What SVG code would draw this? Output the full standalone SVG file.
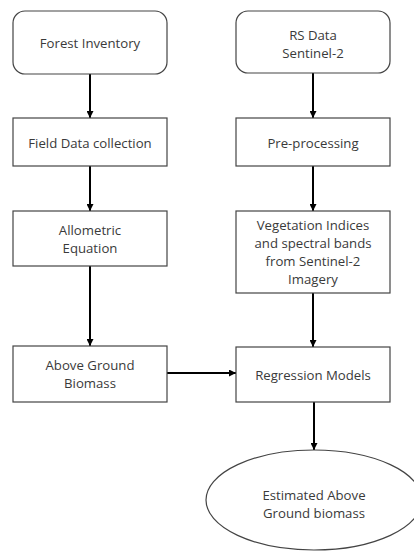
<svg xmlns="http://www.w3.org/2000/svg" width="414" height="552" viewBox="0 0 414 552">
<defs>
<marker id="ah" markerWidth="7" markerHeight="7" refX="7" refY="3.5" orient="auto" markerUnits="userSpaceOnUse">
<path d="M0,0 L7,3.5 L0,7 z" fill="#000"/>
</marker>
<style>
.box{fill:#fff;stroke:#444;stroke-width:1.2}
.t{font-family:"Open Sans","Noto Sans",sans-serif;font-size:13.2px;fill:#3a3a3a;text-anchor:middle}
.c{stroke:#000;stroke-width:2;fill:none;marker-end:url(#ah)}
</style>
</defs>
<rect width="414" height="552" fill="#fff"/>
<g id="connectors">
<line class="c" x1="90" y1="74" x2="90" y2="118"/>
<line class="c" x1="90" y1="166" x2="90" y2="211"/>
<line class="c" x1="90" y1="266" x2="90" y2="346"/>
<line class="c" x1="313" y1="73" x2="313" y2="118"/>
<line class="c" x1="313" y1="166" x2="313" y2="211"/>
<line class="c" x1="313" y1="293" x2="313" y2="347"/>
<line class="c" x1="167" y1="373" x2="236" y2="373"/>
<line class="c" x1="314" y1="402" x2="314" y2="450"/>
</g>
<g id="forest-inventory">
<rect class="box" x="13" y="11" width="154" height="63" rx="12"/>
<text class="t" x="90" y="47.5">Forest Inventory</text>
</g>
<g id="field-data">
<rect class="box" x="13" y="118" width="154" height="48"/>
<text class="t" x="90" y="147.5">Field Data collection</text>
</g>
<g id="allometric">
<rect class="box" x="13" y="211" width="154" height="55"/>
<text class="t" x="90" y="234.5">Allometric</text>
<text class="t" x="90" y="252.5">Equation</text>
</g>
<g id="agb">
<rect class="box" x="13" y="346" width="154" height="56"/>
<text class="t" x="90" y="369.5">Above Ground</text>
<text class="t" x="90" y="387.5">Biomass</text>
</g>
<g id="rs-data">
<rect class="box" x="236" y="11" width="154" height="62" rx="12"/>
<text class="t" x="313" y="39.5">RS Data</text>
<text class="t" x="313" y="57.5">Sentinel-2</text>
</g>
<g id="preprocessing">
<rect class="box" x="236" y="118" width="154" height="48"/>
<text class="t" x="313" y="147.5">Pre-processing</text>
</g>
<g id="vegetation">
<rect class="box" x="236" y="211" width="154" height="82"/>
<text class="t" x="313" y="229.5">Vegetation Indices</text>
<text class="t" x="313" y="247.5">and spectral bands</text>
<text class="t" x="313" y="265.5">from Sentinel-2</text>
<text class="t" x="313" y="284">Imagery</text>
</g>
<g id="regression">
<rect class="box" x="236" y="347" width="154" height="55"/>
<text class="t" x="313" y="379.5">Regression Models</text>
</g>
<g id="estimated">
<ellipse class="box" cx="314" cy="500" rx="108" ry="50"/>
<text class="t" x="314" y="499.5">Estimated Above</text>
<text class="t" x="314" y="517.5">Ground biomass</text>
</g>
</svg>
